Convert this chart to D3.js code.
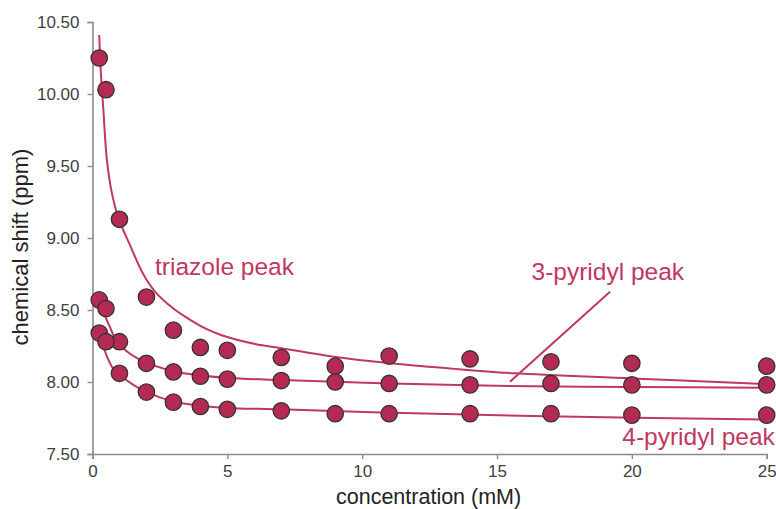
<!DOCTYPE html>
<html>
<head>
<meta charset="utf-8">
<script src="https://cdn.jsdelivr.net/npm/d3@7"></script>
<style>
  html, body { margin: 0; padding: 0; background: #fff; }
  svg { display: block; }
</style>
</head>
<body>
<svg id="chart" width="776" height="509"></svg>
<script>
// Concentrations (mM) at which the shifts were measured
const concentration = [0.25, 0.5, 1, 2, 3, 4, 5, 7, 9, 11, 14, 17, 20, 25];

// Observed chemical shifts (ppm)
const triazoleShift = [10.25, 10.03, 9.13, 8.59, 8.36, 8.24, 8.22, 8.17, 8.11, 8.18, 8.16, 8.14, 8.13, 8.11];
const pyridyl3Shift = [8.57, 8.51, 8.28, 8.13, 8.07, 8.04, 8.02, 8.01, 8.00, 7.99, 7.98, 7.99, 7.98, 7.98];
const pyridyl4Shift = [8.34, 8.28, 8.06, 7.93, 7.86, 7.83, 7.81, 7.80, 7.78, 7.78, 7.78, 7.78, 7.77, 7.77];

// Fitted curves, sampled along concentration
const triazoleFitX = [0.25, 0.315, 0.40, 0.53, 0.71, 0.96, 1.39, 1.88, 2.31, 3.0, 3.55, 4.2, 4.79, 6.03, 7.0, 8.95, 11.06, 13.17, 15.64, 20, 25];
const triazoleFitY = [10.41, 10.13, 9.90, 9.55, 9.32, 9.14, 8.95, 8.75, 8.63, 8.51, 8.44, 8.37, 8.325, 8.264, 8.235, 8.176, 8.13, 8.095, 8.06, 8.025, 7.986];
const pyridyl3FitX = [0.25, 0.45, 0.64, 0.82, 1.19, 1.81, 3.0, 4.05, 5.04, 7.0, 11.06, 16.3, 20, 25];
const pyridyl3FitY = [8.56, 8.465, 8.384, 8.31, 8.225, 8.15, 8.075, 8.045, 8.028, 8.014, 7.99, 7.97, 7.965, 7.96];
const pyridyl4FitX = [0.25, 0.33, 0.51, 0.76, 1.07, 1.56, 2.0, 3.0, 4.0, 5.0, 6.97, 11.06, 16.3, 25];
const pyridyl4FitY = [8.36, 8.29, 8.19, 8.095, 8.04, 7.975, 7.93, 7.865, 7.835, 7.82, 7.81, 7.787, 7.764, 7.74];

// Axis ticks
const xTicks = [0, 5, 10, 15, 20, 25];
const yTicks = [7.5, 8.0, 8.5, 9.0, 9.5, 10.0, 10.5];

// Peak labels (anchored in data space) and the leader line for the 3-pyridyl label
const peakLabels = ["triazole peak", "3-pyridyl peak", "4-pyridyl peak"];
const labelX = [2.32, 16.28, 25.3];
const labelY = [8.74, 8.705, 7.562];
const labelAnchor = ["start", "start", "end"];
const leaderX = [19.19, 15.48];
const leaderY = [8.627, 8.002];

const accent = "#c1375f";
const dotFill = "#b42a52";

const width = 776, height = 509;
const margin = { top: 22, right: 9.3, bottom: 55, left: 92.5 };

const svg = d3.select("#chart");

const x = d3.scaleLinear().domain([0, 25]).range([margin.left, width - margin.right]);
const y = d3.scaleLinear().domain([7.5, 10.5]).range([height - margin.bottom, margin.top]);

const axisColor = "#8a8a8a";
const tickText = "#404040";
const font = "'Liberation Sans', Arial, sans-serif";

// Y axis
const yAxis = svg.append("g")
  .attr("transform", `translate(${margin.left},0)`)
  .call(d3.axisLeft(y).tickValues(yTicks).tickFormat(d3.format(".2f")).tickSize(5).tickPadding(8));
// X axis
const xAxis = svg.append("g")
  .attr("transform", `translate(0,${height - margin.bottom})`)
  .call(d3.axisBottom(x).tickValues(xTicks).tickFormat(d3.format("d")).tickSize(5).tickPadding(6));

[yAxis, xAxis].forEach(g => {
  g.select(".domain").attr("stroke", axisColor).attr("stroke-width", 1.6);
  g.selectAll(".tick line").attr("stroke", axisColor).attr("stroke-width", 1.4);
  g.selectAll(".tick text").attr("fill", tickText).style("font-family", font).style("font-size", "17px");
});

// Axis titles
svg.append("text")
  .attr("x", (x(0) + x(25)) / 2 - 1)
  .attr("y", 503.5)
  .attr("text-anchor", "middle")
  .attr("fill", "#222")
  .style("font-family", font).style("font-size", "21.5px")
  .text("concentration (mM)");

svg.append("text")
  .attr("transform", `translate(28,${(y(7.5) + y(10.5)) / 2 + 9}) rotate(-90)`)
  .attr("text-anchor", "middle")
  .attr("fill", "#222")
  .style("font-family", font).style("font-size", "22px")
  .text("chemical shift (ppm)");

// Fitted curves
const line = d3.line()
  .x(d => x(d[0]))
  .y(d => y(d[1]))
  .curve(d3.curveCatmullRom.alpha(0.5));

const fits = [
  d3.zip(triazoleFitX, triazoleFitY),
  d3.zip(pyridyl3FitX, pyridyl3FitY),
  d3.zip(pyridyl4FitX, pyridyl4FitY)
];

svg.append("g").selectAll("path")
  .data(fits)
  .join("path")
  .attr("d", line)
  .attr("fill", "none")
  .attr("stroke", accent)
  .attr("stroke-width", 2);

// Leader line to the 3-pyridyl curve
svg.append("line")
  .attr("x1", x(leaderX[0])).attr("y1", y(leaderY[0]))
  .attr("x2", x(leaderX[1])).attr("y2", y(leaderY[1]))
  .attr("stroke", accent)
  .attr("stroke-width", 2);

// Observed points
const series = [triazoleShift, pyridyl3Shift, pyridyl4Shift];
const points = series.flatMap(vals => vals.map((v, i) => [concentration[i], v]));

svg.append("g").selectAll("circle")
  .data(points)
  .join("circle")
  .attr("cx", d => x(d[0]))
  .attr("cy", d => y(d[1]))
  .attr("r", 8.2)
  .attr("fill", dotFill)
  .attr("stroke", "#333")
  .attr("stroke-width", 1.3);

// Peak labels
svg.append("g").selectAll("text")
  .data(peakLabels)
  .join("text")
  .attr("x", (d, i) => x(labelX[i]))
  .attr("y", (d, i) => y(labelY[i]))
  .attr("text-anchor", (d, i) => labelAnchor[i])
  .attr("fill", accent)
  .style("font-family", font)
  .style("font-size", "24.5px")
  .text(d => d);
</script>
</body>
</html>
